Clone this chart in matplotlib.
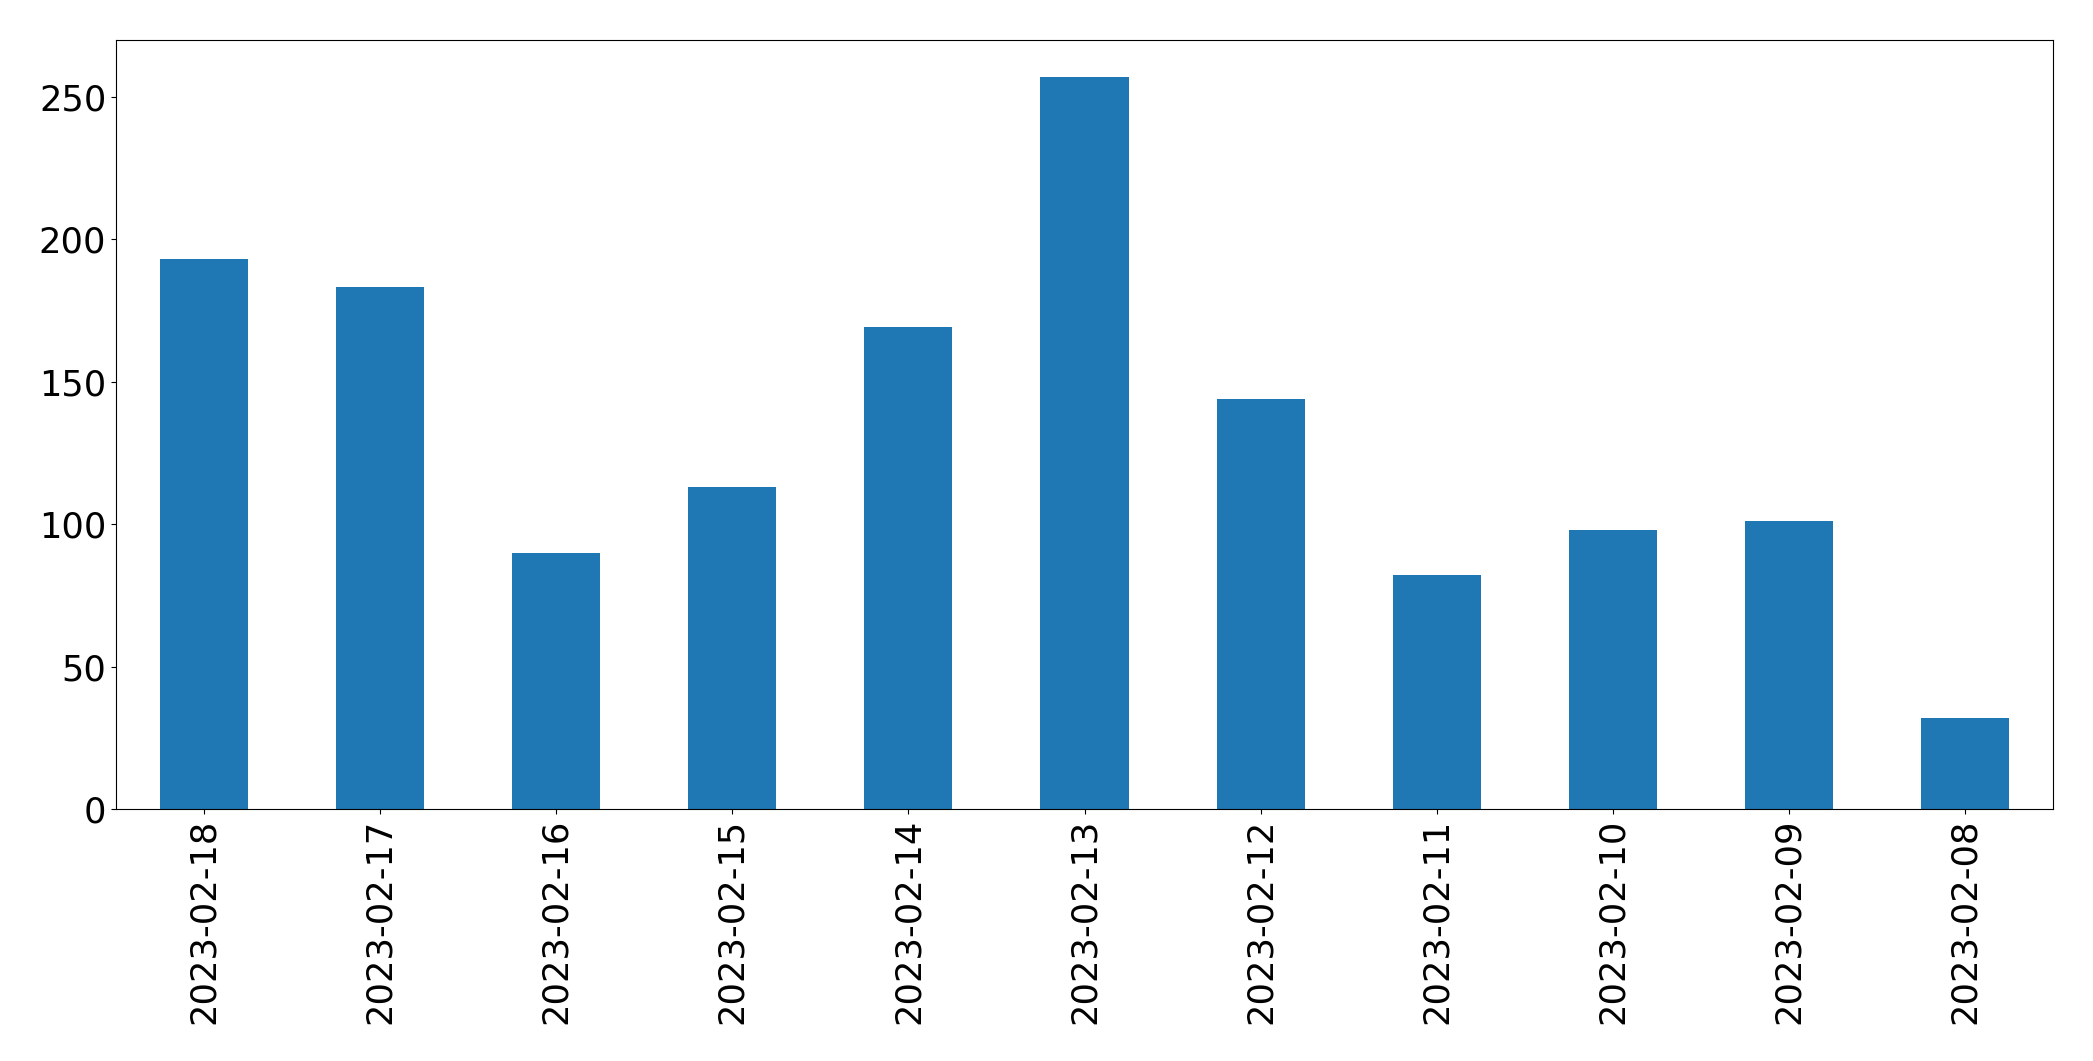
import matplotlib
matplotlib.use('Agg')
import matplotlib.pyplot as plt
import pandas as pd

dates = ['2023-02-18', '2023-02-17', '2023-02-16', '2023-02-15', '2023-02-14',
         '2023-02-13', '2023-02-12', '2023-02-11', '2023-02-10', '2023-02-09',
         '2023-02-08']
counts = [193, 183, 90, 113, 169, 257, 144, 82, 98, 101, 32]

s = pd.Series(counts, index=dates)

fig = plt.figure(figsize=(20.93, 10.61), dpi=100)
ax = fig.add_axes([116 / 2093, 1 - 809 / 1061, (2053 - 116) / 2093, (809 - 40) / 1061])
s.plot.bar(ax=ax, color='#1f77b4')
ax.tick_params(axis='both', labelsize=25.4)

fig.savefig('out.png', dpi=100)
plt.close(fig)
